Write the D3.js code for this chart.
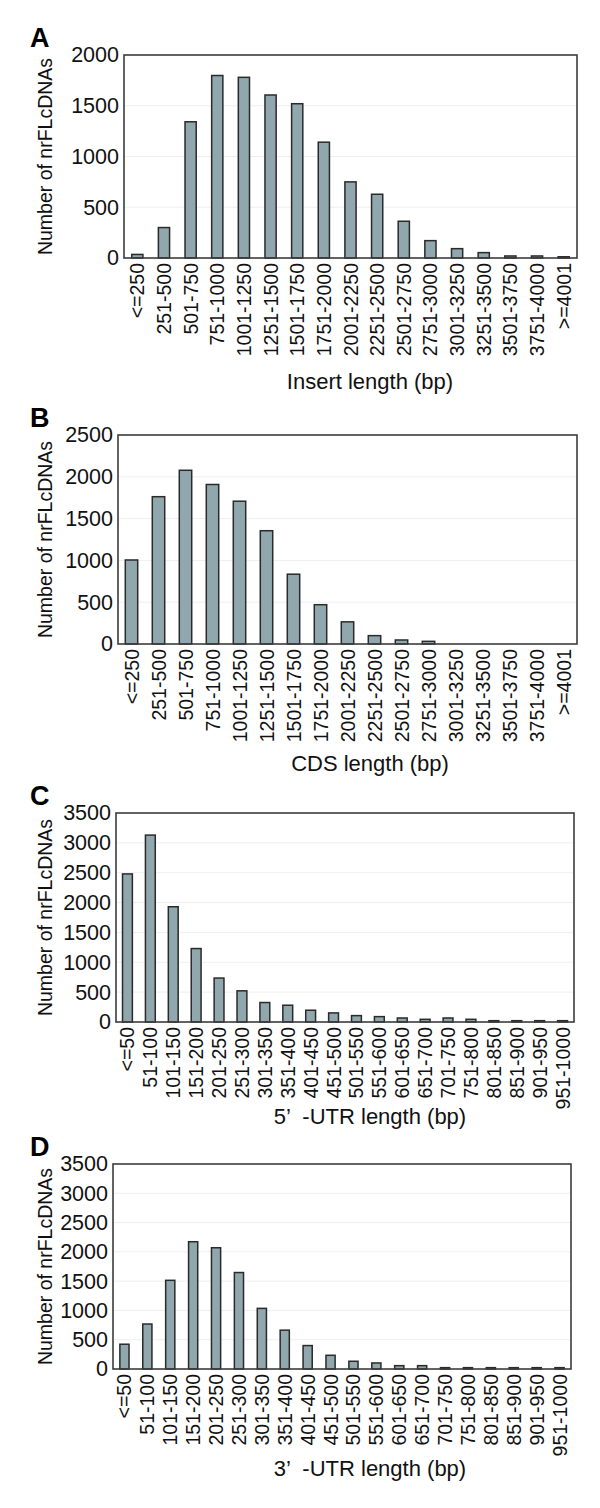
<!DOCTYPE html>
<html><head><meta charset="utf-8">
<script src="https://cdn.jsdelivr.net/npm/d3@7"></script>
<style>html,body{margin:0;padding:0;background:#fff;}svg{display:block;font-family:"Liberation Sans",Arial,sans-serif;}</style>
</head><body>
<script>
// ---------- data ----------
const insertCategories = ["<=250","251-500","501-750","751-1000","1001-1250","1251-1500","1501-1750","1751-2000","2001-2250","2251-2500","2501-2750","2751-3000","3001-3250","3251-3500","3501-3750","3751-4000",">=4001"];
const insertValues = [35, 300, 1342, 1798, 1780, 1606, 1520, 1141, 750, 628, 362, 171, 92, 53, 20, 20, 12];
const cdsValues    = [1005, 1762, 2078, 1908, 1708, 1355, 835, 470, 265, 100, 48, 32, 0, 0, 0, 0, 0];
const utrCategories = ["<=50","51-100","101-150","151-200","201-250","251-300","301-350","351-400","401-450","451-500","501-550","551-600","601-650","651-700","701-750","751-800","801-850","851-900","901-950","951-1000"];
const utr5Values = [2480, 3130, 1930, 1230, 736, 522, 326, 281, 197, 152, 107, 90, 67, 45, 67, 45, 22, 22, 22, 22];
const utr3Values = [423, 768, 1514, 2173, 2070, 1647, 1035, 663, 400, 234, 132, 103, 57, 57, 23, 23, 23, 23, 23, 23];
const ticksA = [0, 500, 1000, 1500, 2000];
const ticksB = [0, 500, 1000, 1500, 2000, 2500];
const ticksCD = [0, 500, 1000, 1500, 2000, 2500, 3000, 3500];
const panelLetters = ["A", "B", "C", "D"];
const xTitles = ["Insert length (bp)", "CDS length (bp)", "5\u2019 \u00a0-UTR length (bp)", "3\u2019 \u00a0-UTR length (bp)"];
const yTitle = "Number of nrFLcDNAs";

// ---------- layout ----------
const panels = [
  {cats: insertCategories, vals: insertValues, ticks: ticksA, left:124, right:577, top:55,  bottom:258,  bar:0.42, titleY:389},
  {cats: insertCategories, vals: cdsValues,    ticks: ticksB, left:118, right:577, top:435, bottom:644,  bar:0.46, titleY:771},
  {cats: utrCategories,    vals: utr5Values,   ticks: ticksCD,left:116, right:574, top:813, bottom:1022, bar:0.43, titleY:1124},
  {cats: utrCategories,    vals: utr3Values,   ticks: ticksCD,left:113, right:571, top:1164,bottom:1369, bar:0.40, titleY:1476}
];

const svg = d3.select("body").append("svg").attr("width", 600).attr("height", 1508);

panels.forEach((p, i) => {
  const g = svg.append("g");
  const x = d3.scaleBand().domain(p.cats).range([p.left, p.right]).padding(0);
  const y = d3.scaleLinear().domain([0, d3.max(p.ticks)]).range([p.bottom, p.top]);

  // faint gridlines
  g.selectAll("line.grid").data(p.ticks.slice(1, -1)).join("line")
    .attr("class", "grid")
    .attr("x1", p.left).attr("x2", p.right)
    .attr("y1", d => y(d)).attr("y2", d => y(d))
    .attr("stroke", "#efefef").attr("stroke-width", 1);

  // bars
  const bw = x.bandwidth() * p.bar;
  g.selectAll("rect.bar").data(p.cats.map((c, k) => ({c, v: p.vals[k]})).filter(d => d.v > 0)).join("rect")
    .attr("class", "bar")
    .attr("x", d => x(d.c) + (x.bandwidth() - bw) / 2)
    .attr("y", d => y(d.v))
    .attr("width", bw)
    .attr("height", d => y(0) - y(d.v))
    .attr("fill", "#8fa7ad")
    .attr("stroke", "#2a2a2a")
    .attr("stroke-width", 1.5);

  // frame
  g.append("rect")
    .attr("x", p.left).attr("y", p.top)
    .attr("width", p.right - p.left).attr("height", p.bottom - p.top)
    .attr("fill", "none").attr("stroke", "#3c3c3c").attr("stroke-width", 1.6);

  // y axis
  const ya = g.append("g").attr("transform", `translate(${p.left},0)`)
    .call(d3.axisLeft(y).tickValues(p.ticks).tickSize(0).tickPadding(5).tickFormat(d3.format("d")));
  ya.select(".domain").remove();
  ya.selectAll("text").attr("font-size", 21.5).attr("fill", "#111").attr("font-family", "Liberation Sans, Arial, sans-serif");

  // x axis
  const xa = g.append("g").attr("transform", `translate(0,${p.bottom})`)
    .call(d3.axisBottom(x).tickSize(0));
  xa.select(".domain").remove();
  xa.selectAll("text")
    .attr("font-size", 19.5).attr("fill", "#111").attr("font-family", "Liberation Sans, Arial, sans-serif")
    .attr("transform", "rotate(-90)")
    .attr("x", -5).attr("y", 0).attr("dy", "0.36em")
    .style("text-anchor", "end");

  // panel letter
  g.append("text").attr("x", 30).attr("y", p.top - 8)
    .attr("font-size", 27).attr("font-weight", "bold").attr("fill", "#000")
    .text(panelLetters[i]);

  // y title
  g.append("text")
    .attr("transform", `translate(52,${(p.top + p.bottom) / 2}) rotate(-90)`)
    .attr("text-anchor", "middle").attr("font-size", 19.5).attr("fill", "#111")
    .text(yTitle);

  // x title
  g.append("text")
    .attr("x", 370).attr("y", p.titleY)
    .attr("text-anchor", "middle").attr("font-size", 22).attr("fill", "#111")
    .text(xTitles[i]);
});
</script>
</body></html>
